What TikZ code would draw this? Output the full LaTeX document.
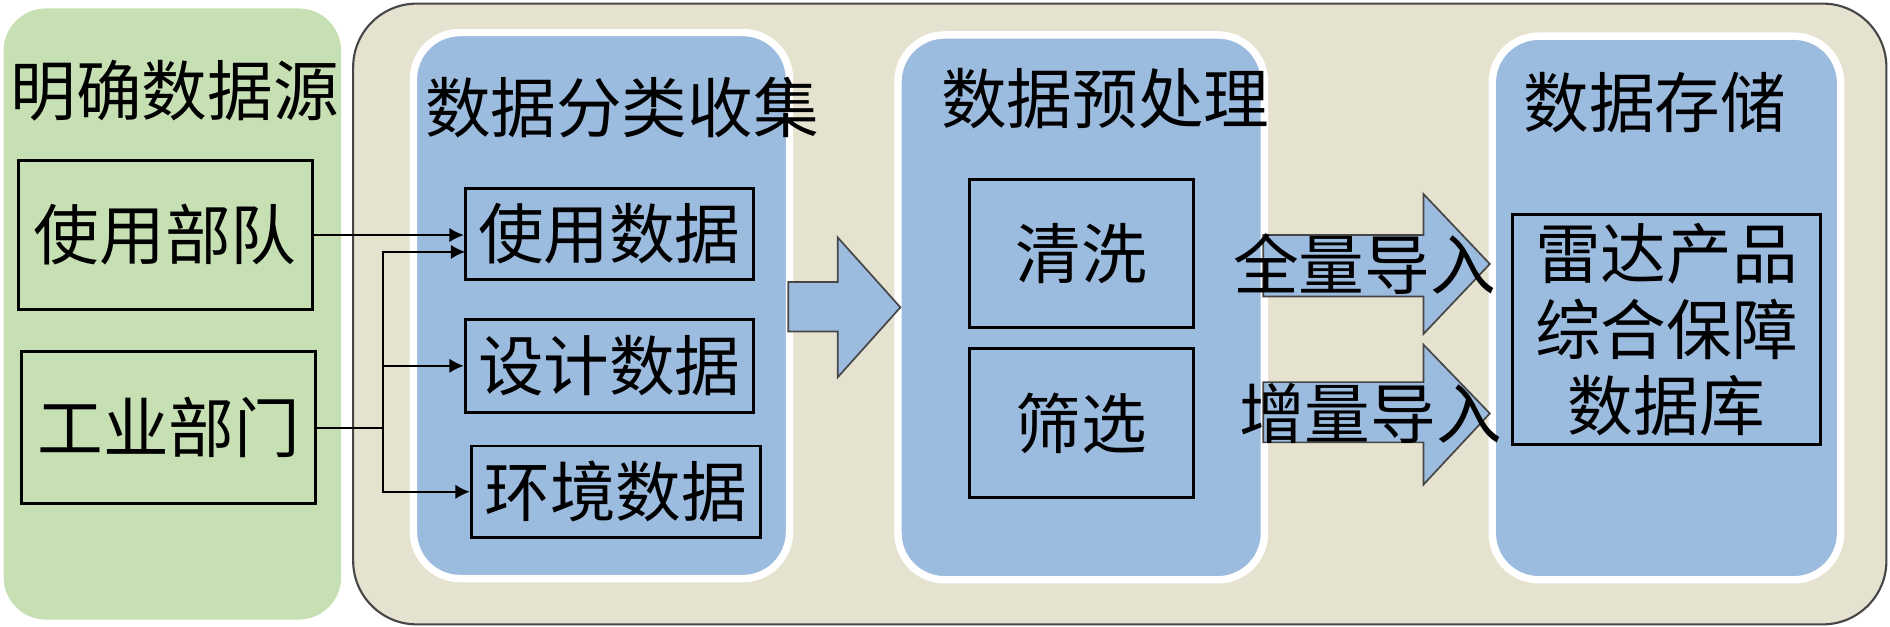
\documentclass[tikz,border=0pt]{standalone}
\usepackage{fontspec}
\newfontfamily\cjk{Noto Sans CJK SC}
\usepackage{xcolor}
\usetikzlibrary{arrows.meta}
\definecolor{srcgreen}{RGB}{198,224,180}
\definecolor{panelbeige}{RGB}{230,226,208}
\definecolor{stepblue}{RGB}{155,187,223}
\definecolor{edgegray}{RGB}{70,70,70}

\begin{document}
\begin{tikzpicture} [x=0.02cm, y=-0.02cm,
  every node/.style={font=\cjk\fontsize{31}{36}\selectfont, inner sep=0pt},
  databox/.style={draw=black, line width=1.4pt},
  stagepanel/.style={draw=white, line width=3.5pt, fill=stepblue, rounded corners=22},
  bigarrow/.style={draw=edgegray, line width=0.8pt, fill=stepblue},
  feed/.style={line width=1pt},
  arr/.style={feed, -{Latex[length=2.4mm,width=2.4mm]}}]

\useasboundingbox (0,0) rectangle (1568,520);

% panels
\fill [srcgreen, rounded corners=20] (3,7) rectangle (283,514);
\draw [edgegray, fill=panelbeige, line width=1pt, rounded corners=30] (293,3) rectangle (1565,518);
\draw [stagepanel] (343,27) rectangle (655,480);
\draw [stagepanel] (745,29) rectangle (1049,481);
\draw [stagepanel] (1238,30) rectangle (1527,481);

% titles
\node (srctitle) at (145,75) {明确数据源};
\node (colltitle) at (516,89) {数据分类收集};
\node (pretitle) at (917,82) {数据预处理};
\node (storetitle) at (1373,85) {数据存储};

% boxes
\node [databox, minimum width=4.88cm, minimum height=2.48cm] (army) at (137,195) {使用部队};
\node [databox, minimum width=4.88cm, minimum height=2.52cm] (industry) at (140,355) {工业部门};

\node [databox, minimum width=4.78cm, minimum height=1.52cm] (usedata) at (505.5,194) {使用数据};
\node [databox, minimum width=4.78cm, minimum height=1.54cm] (design) at (505.5,303.5) {设计数据};
\node [databox, minimum width=4.80cm, minimum height=1.52cm] (env) at (511,408) {环境数据};

\node [databox, minimum width=3.72cm, minimum height=2.46cm] (clean) at (897,210.5) {清洗};
\node [databox, minimum width=3.72cm, minimum height=2.48cm] (screen) at (897,351) {筛选};

\node [databox, minimum width=5.1cm, minimum height=3.82cm, align=center] (db) at (1382.5,273.5) {雷达产品\\综合保障\\数据库};

% block arrows
\draw [bigarrow] (654,234) -- (695,234) -- (695,197) -- (747,255) -- (695,313) -- (695,275) -- (654,275) -- cycle;
\draw [bigarrow] (1048,195) -- (1181,195) -- (1181,161) -- (1236,219) -- (1181,277) -- (1181,246) -- (1048,246) -- cycle;
\draw [bigarrow] (1048,317) -- (1181,317) -- (1181,286) -- (1236,343) -- (1181,402) -- (1181,367) -- (1048,367) -- cycle;

\node (fullin) at (1132,219) {全量导入};
\node (incrin) at (1137,343) {增量导入};

% connectors
\coordinate (split) at (318,355);
\coordinate (usein) at (386,209);

\draw [arr] (army.east) -- (army.east -| usedata.west);
\draw [feed] (industry.east) -- (industry.east -| split);
\draw [arr] (split) |- (usein);
\draw [arr] (split) |- (design.west);
\draw [arr] (split) |- (env.west);

\end{tikzpicture}
\end{document}
